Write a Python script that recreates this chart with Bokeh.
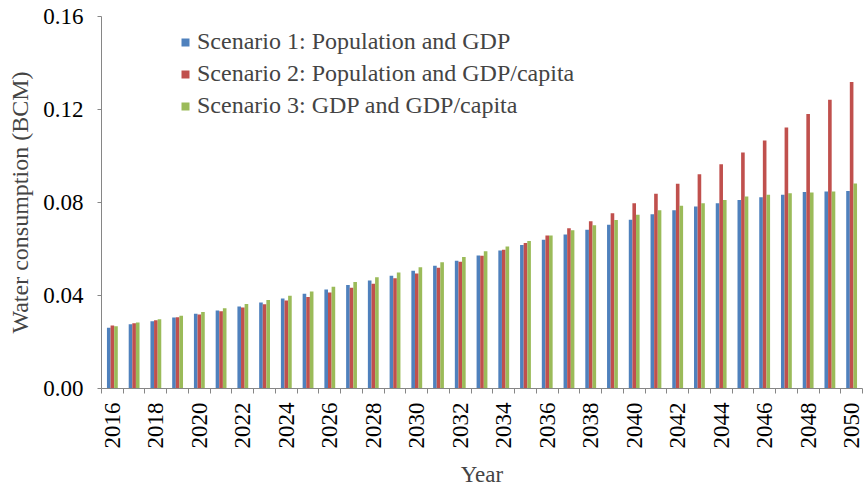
from bokeh.plotting import figure
from bokeh.models import Range1d, FixedTicker, NumeralTickFormatter, Legend, LegendItem, ColumnDataSource
from bokeh.embed import file_html
from bokeh.resources import INLINE
import math

years = list(range(2016, 2051))
scenario1 = [0.0261, 0.0276, 0.0289, 0.0305, 0.0322, 0.0336, 0.0353, 0.0370, 0.0387,
             0.0407, 0.0426, 0.0445, 0.0465, 0.0485, 0.0506, 0.0528, 0.0550, 0.0572,
             0.0594, 0.0617, 0.0640, 0.0662, 0.0683, 0.0704, 0.0726, 0.0749, 0.0767,
             0.0783, 0.0797, 0.0811, 0.0823, 0.0833, 0.0845, 0.0847, 0.0850]
scenario2 = [0.0271, 0.0281, 0.0294, 0.0306, 0.0318, 0.0332, 0.0348, 0.0362, 0.0379,
             0.0394, 0.0413, 0.0433, 0.0451, 0.0474, 0.0495, 0.0519, 0.0545, 0.0571,
             0.0597, 0.0626, 0.0658, 0.0689, 0.0719, 0.0754, 0.0797, 0.0838, 0.0881,
             0.0921, 0.0965, 0.1015, 0.1067, 0.1123, 0.1181, 0.1242, 0.1318]
scenario3 = [0.0268, 0.0284, 0.0298, 0.0313, 0.0329, 0.0345, 0.0363, 0.0381, 0.0399,
             0.0417, 0.0438, 0.0458, 0.0479, 0.0499, 0.0522, 0.0543, 0.0566, 0.0590,
             0.0611, 0.0634, 0.0658, 0.0681, 0.0702, 0.0725, 0.0747, 0.0767, 0.0786,
             0.0797, 0.0811, 0.0826, 0.0833, 0.0840, 0.0843, 0.0847, 0.0882]
series_names = ["Scenario 1: Population and GDP",
                "Scenario 2: Population and GDP/capita",
                "Scenario 3: GDP and GDP/capita"]
colors = ["#4F81BD", "#C0504D", "#9BBB59"]
label_years = list(range(2016, 2051, 2))
y_ticks = [0.0, 0.04, 0.08, 0.12, 0.16]

FONT = "Liberation Serif"

p = figure(width=863, height=489, output_backend="svg", toolbar_location=None,
           x_range=Range1d(2015.5, 2050.5), y_range=Range1d(0, 0.16),
           min_border_left=101, min_border_right=1, min_border_top=16, min_border_bottom=97)
p.outline_line_color = None
p.xgrid.visible = False
p.ygrid.visible = False
p.background_fill_color = "white"
p.border_fill_color = "white"

bw = 0.166
offsets = [-bw, 0.0, bw]
renderers = []
for vals, off, col in zip([scenario1, scenario2, scenario3], offsets, colors):
    src = ColumnDataSource(dict(x=[y + off for y in years], top=vals))
    r = p.vbar(x="x", top="top", width=bw, bottom=0, source=src, fill_color=col, line_color=None)
    renderers.append(r)

legend = Legend(items=[LegendItem(label=n, renderers=[r]) for n, r in zip(series_names, renderers)],
                location=(79, 269), orientation="vertical")
legend.glyph_width = 10
legend.glyph_height = 10
legend.label_text_font = FONT
legend.label_text_font_size = "24px"
legend.label_standoff = 7
legend.spacing = 5
legend.padding = 0
legend.margin = 0
legend.border_line_color = None
legend.background_fill_alpha = 0
p.add_layout(legend)

axis_color = "#868686"
xa = p.xaxis[0]
xa.ticker = FixedTicker(ticks=label_years, minor_ticks=[y - 0.5 for y in years] + [years[-1] + 0.5])
xa.major_tick_line_color = None
xa.major_tick_out = 5
xa.minor_tick_out = 5
xa.minor_tick_in = 0
xa.minor_tick_line_color = axis_color
xa.axis_line_color = axis_color
xa.major_label_orientation = math.pi / 2
xa.major_label_text_font = FONT
xa.major_label_text_font_size = "23px"
xa.major_label_text_color = "black"
xa.major_label_standoff = 9
xa.axis_label = "Year"
xa.axis_label_text_font = FONT
xa.axis_label_text_font_size = "23px"
xa.axis_label_text_font_style = "normal"
xa.axis_label_standoff = 10

ya = p.yaxis[0]
ya.ticker = FixedTicker(ticks=y_ticks)
ya.formatter = NumeralTickFormatter(format="0.00")
ya.minor_tick_line_color = None
ya.major_tick_out = 4
ya.major_tick_in = 0
ya.major_tick_line_color = axis_color
ya.axis_line_color = axis_color
ya.major_label_text_font = FONT
ya.major_label_text_font_size = "23px"
ya.major_label_text_color = "black"
ya.major_label_standoff = 14
ya.axis_label = "Water consumption (BCM)"
ya.axis_label_text_font = FONT
ya.axis_label_text_font_size = "24px"
ya.axis_label_text_font_style = "normal"
ya.axis_label_standoff = 7

open("out.html", "w").write(file_html(p, INLINE))
